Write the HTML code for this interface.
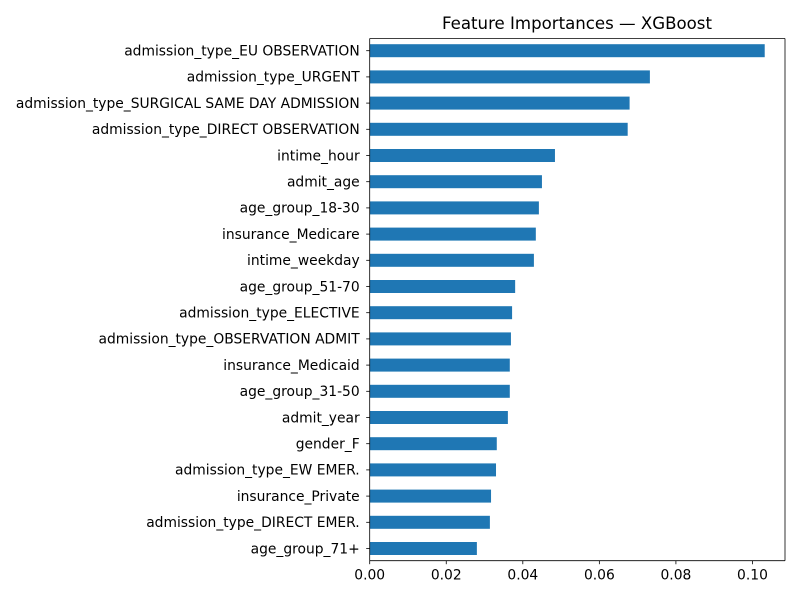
<!DOCTYPE html>
<html><head><meta charset="utf-8"><style>
body{margin:0;background:#fff;}
svg text{font-family:"DejaVu Sans","Liberation Sans",sans-serif;}
</style></head><body>
<svg id="chart" width="800" height="600">
<text x="577" y="29" font-size="16.6" text-anchor="middle">Feature Importances — XGBoost</text>
<g id="bars"></g>
<g id="yaxis"></g>
<g id="xaxis"></g>
</svg>
<script>
const features=["admission_type_EU OBSERVATION","admission_type_URGENT","admission_type_SURGICAL SAME DAY ADMISSION","admission_type_DIRECT OBSERVATION","intime_hour","admit_age","age_group_18-30","insurance_Medicare","intime_weekday","age_group_51-70","admission_type_ELECTIVE","admission_type_OBSERVATION ADMIT","insurance_Medicaid","age_group_31-50","admit_year","gender_F","admission_type_EW EMER.","insurance_Private","admission_type_DIRECT EMER.","age_group_71+"];
const importances=[0.1032,0.0732,0.0679,0.0674,0.0484,0.0450,0.0442,0.0434,0.0429,0.0380,0.0372,0.0369,0.0366,0.0366,0.0361,0.0332,0.0330,0.0317,0.0314,0.0280];
const xTicks=[0,0.02,0.04,0.06,0.08,0.10];
const xTickLabels=["0.00","0.02","0.04","0.06","0.08","0.10"];

const NS="http://www.w3.org/2000/svg";
const L=369.7,R=785,T=38.5,B=560.7,xmax=0.1085;
const step=26.2,off=12.2,bh=13;
const x=v=>L+v/xmax*(R-L);
const y=i=>T+off+i*step;
function mk(tag,attrs,parent){const e=document.createElementNS(NS,tag);for(const k in attrs)e.setAttribute(k,attrs[k]);parent.appendChild(e);return e;}
const bars=document.getElementById('bars'),ya=document.getElementById('yaxis'),xa=document.getElementById('xaxis');
features.forEach((f,i)=>{
  const r=mk('rect',{x:L,y:y(i)-bh/2,width:x(importances[i])-L,height:bh,fill:'#1f77b4'},bars);
  
  
  const tk=mk('line',{x1:L-3.5,x2:L,y1:y(i),y2:y(i),stroke:'#000','stroke-width':0.8},ya);
  
  
  const t=mk('text',{x:L-10,y:y(i)+4.8,'font-size':13.85,'text-anchor':'end'},ya);
  t.textContent=f;
  
  
});
xTicks.forEach((v,i)=>{
  const tk=mk('line',{x1:x(v),x2:x(v),y1:B,y2:B+3.5,stroke:'#000','stroke-width':0.8},xa);
  
  
  const t=mk('text',{x:x(v),y:B+19,'font-size':13.85,'text-anchor':'middle'},xa);
  t.textContent=xTickLabels[i];
  
  
});
const sp=[[L,T,L,B],[R,T,R,B],[L,T,R,T],[L,B,R,B]];
sp.forEach(s=>{
  const l=mk('line',{x1:s[0],y1:s[1],x2:s[2],y2:s[3],stroke:'#000','stroke-width':0.8},xa);
  
  
});
</script>
</body></html>
